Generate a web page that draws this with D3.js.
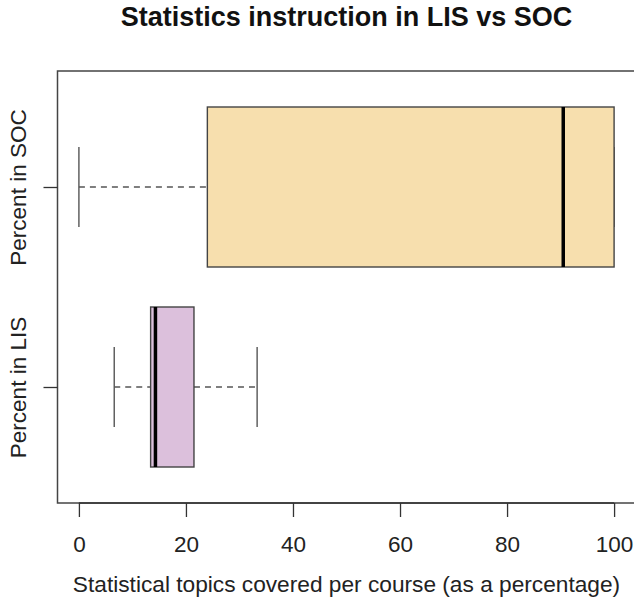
<!DOCTYPE html>
<html lang="en">
<head>
<meta charset="UTF-8">
<title>Statistics instruction in LIS vs SOC</title>
<script src="https://d3js.org/d3.v7.min.js"></script>
<style>
  body { margin: 0; background: #fff; }
  svg { display: block; font-family: "Liberation Sans", Arial, sans-serif; }
  .axis path, .axis line { stroke: #333; stroke-width: 1.3; }
  .axis text { fill: #222; font-size: 22.5px; }
</style>
</head>
<body>
<div id="chart"></div>
<script>
// groups, bottom to top as in the R boxplot
var groups = ["Percent in LIS", "Percent in SOC"];
var fills = ["#dcc0dc", "#f7dfae"];
// five-number summaries: min, q1, median, q3, max
var lisStats = [6.6, 13.4, 14.3, 21.5, 33.3];
var socStats = [0, 24, 90.5, 100, 100];
var xTicks = [0, 20, 40, 60, 80, 100];

var W = 634, H = 602;
var pLeft = 57.5, pRight = 635.5, pTop = 71, pBottom = 503;

var svg = d3.select("#chart").append("svg")
    .attr("width", W).attr("height", H);

// R style: 4% padding around data range
var x = d3.scaleLinear().domain([-4, 104]).range([pLeft, pRight]);
var y = d3.scaleLinear().domain([0.42, 2.58]).range([pBottom, pTop]);

var data = [
  { name: groups[0], pos: 1, s: lisStats, fill: fills[0] },
  { name: groups[1], pos: 2, s: socStats, fill: fills[1] }
];
var boxHalf = 0.4, capHalf = 0.2;

var g = svg.selectAll(".box").data(data).enter().append("g").attr("class", "box");

// dashed whiskers
g.append("line")
    .attr("x1", d => x(d.s[0])).attr("x2", d => x(d.s[1]))
    .attr("y1", d => y(d.pos)).attr("y2", d => y(d.pos))
    .attr("stroke", "#555").attr("stroke-width", 1.4).attr("stroke-dasharray", "6,5");
g.append("line")
    .attr("x1", d => x(d.s[3])).attr("x2", d => x(d.s[4]))
    .attr("y1", d => y(d.pos)).attr("y2", d => y(d.pos))
    .attr("stroke", "#555").attr("stroke-width", 1.4).attr("stroke-dasharray", "6,5");

// staples
[0, 4].forEach(function (k) {
  g.append("line")
      .attr("x1", d => x(d.s[k])).attr("x2", d => x(d.s[k]))
      .attr("y1", d => y(d.pos - capHalf)).attr("y2", d => y(d.pos + capHalf))
      .attr("stroke", "#555").attr("stroke-width", 1.4);
});

// boxes
g.append("rect")
    .attr("x", d => x(d.s[1]))
    .attr("width", d => x(d.s[3]) - x(d.s[1]))
    .attr("y", d => y(d.pos + boxHalf))
    .attr("height", d => y(d.pos - boxHalf) - y(d.pos + boxHalf))
    .attr("fill", d => d.fill)
    .attr("stroke", "#444").attr("stroke-width", 1.4);

// medians
g.append("line")
    .attr("x1", d => x(d.s[2])).attr("x2", d => x(d.s[2]))
    .attr("y1", d => y(d.pos + boxHalf)).attr("y2", d => y(d.pos - boxHalf))
    .attr("stroke", "#000").attr("stroke-width", 3.5);

// frame
svg.append("rect")
    .attr("x", pLeft).attr("y", pTop)
    .attr("width", pRight - pLeft).attr("height", pBottom - pTop)
    .attr("fill", "none").attr("stroke", "#444").attr("stroke-width", 1.5);

// x axis
var xAxis = svg.append("g").attr("class", "axis")
    .attr("transform", "translate(0," + pBottom + ")")
    .call(d3.axisBottom(x).tickValues(xTicks).tickSize(14).tickSizeOuter(0));
xAxis.select(".domain").attr("d", "M" + x(0) + ",0H" + x(100));
xAxis.selectAll("text").attr("y", 49).attr("dy", null);

// y axis
var yAxis = svg.append("g").attr("class", "axis")
    .attr("transform", "translate(" + pLeft + ",0)")
    .call(d3.axisLeft(y).tickValues([1, 2]).tickFormat(d => groups[d - 1]).tickSize(14).tickSizeOuter(0));
yAxis.select(".domain").remove();
yAxis.selectAll("text")
    .attr("x", null).attr("dy", null)
    .attr("text-anchor", "middle")
    .attr("transform", "translate(" + (26 - pLeft) + ",0) rotate(-90)");

// title and axis label
svg.append("text")
    .attr("x", (pLeft + pRight) / 2).attr("y", 26)
    .attr("text-anchor", "middle")
    .style("font-size", "27px").style("font-weight", "bold").attr("fill", "#111")
    .text("Statistics instruction in LIS vs SOC");

svg.append("text")
    .attr("x", (pLeft + pRight) / 2).attr("y", 592)
    .attr("text-anchor", "middle")
    .style("font-size", "22.7px").attr("fill", "#222")
    .text("Statistical topics covered per course (as a percentage)");
</script>
</body>
</html>
